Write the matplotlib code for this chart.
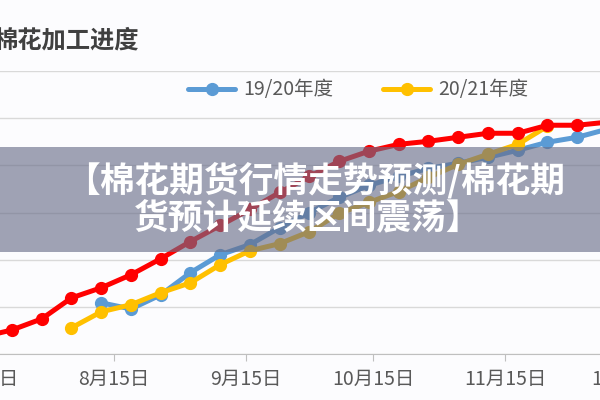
import numpy as np
import matplotlib
matplotlib.use("Agg")
import matplotlib.pyplot as plt
import matplotlib.dates as mdates
from matplotlib.patches import Rectangle

plt.rcParams['font.family'] = ['Noto Sans CJK SC', 'DejaVu Sans']

# weekly progress (%)
red_start = "2020-07-15"
red_vals = [7.2, 10.2, 14.9, 23.8, 28.1, 33.6, 40.4, 47.7, 54.5, 61.3, 68.5,
            75.3, 81.7, 86.0, 88.9, 90.2, 91.9, 93.6, 93.6, 97.0, 97.0, 98.3]

blue_start = "2020-08-12"
blue_vals = [21.7, 19.1, 25.1, 34.5, 42.1, 46.4, 53.6, 60.0, 66.4, 71.5, 75.3,
             78.7, 80.9, 83.4, 86.4, 89.8, 91.9, 95.3]

yellow_start = "2020-08-05"
yellow_vals = [11.1, 17.9, 20.9, 26.0, 30.2, 37.9, 43.8, 46.8, 51.9, 59.6, 64.3,
               68.9, 74.9, 80.4, 84.7, 88.9, 96.6]

tick_dates = ["2020-07-15", "2020-08-15", "2020-09-15", "2020-10-15",
              "2020-11-15", "2020-12-15"]
tick_labels = ["7月15日", "8月15日", "9月15日", "10月15日", "11月15日", "12月15日"]

series_names = ["19/20年度", "20/21年度"]
title = "棉花加工进度"
banner_lines = ["【棉花期货行情走势预测/棉花期", "货预计延续区间震荡】"]


def to_num(d):
    return mdates.date2num(np.asarray(d, dtype="datetime64[D]").astype(object))


def weekly(start, vals):
    d = np.datetime64(start) + np.arange(len(vals)) * np.timedelta64(7, 'D')
    return to_num(d)


W = 600.0
fig = plt.figure(figsize=(6, 4), dpi=100)
fig.patch.set_facecolor("#fcfcfe")
# the chart is cropped: axes run a bit past both figure edges
left_px, right_px = -30, 645
ax = fig.add_axes([left_px / W, 0.115, (right_px - left_px) / W, 0.7075])
ax.set_facecolor("#fcfcfe")

kw = dict(lw=3.6, marker="o", ms=8.5, solid_capstyle="round")
lb, = ax.plot(weekly(blue_start, blue_vals), blue_vals, color="#5b9bd5", zorder=3, **kw)
ly, = ax.plot(weekly(yellow_start, yellow_vals), yellow_vals, color="#ffc000", zorder=4, **kw)
ax.plot(weekly(red_start, red_vals), red_vals, color="#ff0000", zorder=5, **kw)

ax.set_yticks(np.arange(0, 121, 20))
ax.yaxis.grid(True, color="#d9d9d9", lw=1)
ax.tick_params(axis="y", length=0, labelleft=False)
ax.set_xticks(to_num(tick_dates))
ax.set_xticklabels(tick_labels, fontsize=14, color="#595959")
ax.tick_params(axis="x", length=5, color="#bfbfbf", pad=6)
for s in ["top", "left", "right"]:
    ax.spines[s].set_visible(False)
ax.spines["bottom"].set_color("#bfbfbf")

aug15 = to_num(["2020-08-15"])[0]
ax.set_xlim(aug15 + (left_px - 114) / 4.25, aug15 + (right_px - 114) / 4.25)
ax.set_ylim(0, 120)

fig.legend([lb, ly], series_names, loc="center", bbox_to_anchor=(0.597, 0.775),
           ncol=2, frameon=False, fontsize=14, handlelength=2.4,
           columnspacing=2.6, handletextpad=0.4, labelcolor="#595959")

fig.text(-0.011, 0.898, title, fontsize=17.5, fontweight="bold", color="#404040",
         va="center", ha="left")

fig.patches.append(Rectangle((0, 0.37), 1, 0.2625, transform=fig.transFigure,
                             facecolor=(105 / 255, 110 / 255, 137 / 255), alpha=0.63,
                             edgecolor="none", zorder=10))
fig.text(0.525, 0.55, banner_lines[0], fontsize=25, fontweight="bold", color="white",
         ha="center", va="center", zorder=11)
fig.text(0.512, 0.455, banner_lines[1], fontsize=25, fontweight="bold", color="white",
         ha="center", va="center", zorder=11)

fig.savefig("out.png", dpi=100, facecolor=fig.get_facecolor())
